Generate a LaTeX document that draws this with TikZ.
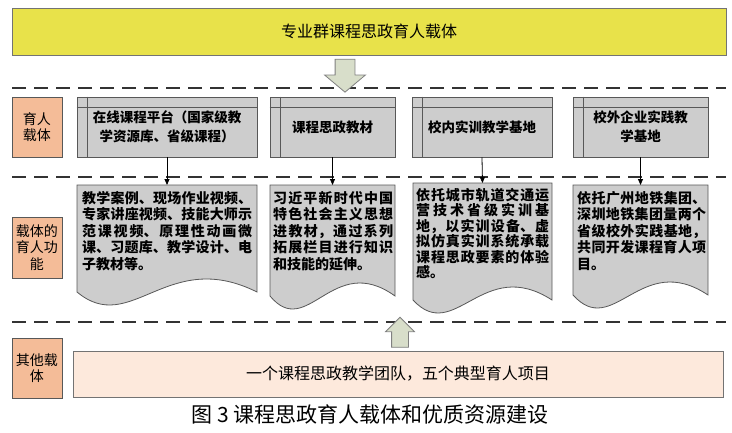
\documentclass[tikz,border=0pt]{standalone}
\usepackage{fontspec}
\newfontfamily\cjk{Noto Sans CJK SC}
\usetikzlibrary{positioning,arrows.meta,shapes.arrows,calc}
\XeTeXlinebreaklocale "zh"
\XeTeXlinebreakskip=0pt plus 4pt
\definecolor{topyellow}{RGB}{232,226,74}
\definecolor{peach}{RGB}{244,188,152}
\definecolor{lightpeach}{RGB}{253,233,220}
\definecolor{boxgray}{RGB}{205,205,205}
\definecolor{arrowgreen}{RGB}{216,222,202}
\definecolor{linegray}{RGB}{88,88,88}
\tikzset{
  topbox/.style  = {draw=black!55, fill=topyellow, line width=0.8pt, minimum width=714pt, minimum height=47pt, font=\cjk\fontsize{16}{19}\selectfont},
  lbl/.style     = {draw=linegray, fill=peach, line width=0.8pt, minimum width=50pt, minimum height=60pt, align=center, inner sep=1pt, font=\cjk\fontsize{14}{16.5}\selectfont},
  store/.style   = {draw=linegray, fill=boxgray, line width=0.8pt, minimum height=60pt, align=center, inner sep=1pt, font=\cjk\bfseries\fontsize{13.5}{19}\selectfont},
  docarea/.style = {inner sep=0pt, outer sep=0pt},
  docline/.style = {draw=linegray, fill=boxgray, line width=0.8pt},
  doctext/.style = {align=justify, inner sep=0pt, font=\cjk\bfseries\fontsize{14}{16.5}\selectfont},
  sep/.style     = {draw=black!80, line width=2.4pt, dash pattern=on 14pt off 8pt},
  link/.style    = {-{Triangle[length=6pt,width=5pt]}, draw=black, line width=0.8pt},
  bigarrow/.style= {single arrow, single arrow head indent=0pt, draw=black!50, fill=arrowgreen, line width=0.8pt},
  basebox/.style = {draw=black!55, fill=lightpeach, line width=0.8pt, minimum width=650pt, minimum height=46pt, font=\cjk\fontsize{16}{19}\selectfont},
}

\begin{document}
\begin{tikzpicture}[x=1pt,y=-1pt]
  \useasboundingbox (0,0) rectangle (732,432);
  % top carrier
  \node[topbox] (top) at (369,31.5) {专业群课程思政育人载体};
  \foreach \y in {88,177,322} \draw[sep] (12,\y) -- (726,\y);
  \node[bigarrow, rotate=-90, minimum height=33pt, inner sep=9.5pt, single arrow head extend=10.5pt, single arrow tip angle=100] (down) at (345,71.5) {};

  % row 1: carriers
  \node[lbl] (l1) at (37,127) {育人\\载体};
  \node[store, minimum width=180pt] (p1) at (167,127) {在线课程平台（国家级教\\学资源库、省级课程）};
  \node[store, minimum width=125pt] (p2) at (332.5,127) {课程思政教材};
  \node[store, minimum width=140pt] (p3) at (482,127) {校内实训教学基地};
  \node[store, minimum width=135pt] (p4) at (640.5,127) {校外企业实践教\\学基地};
  \foreach \b in {p1,p2,p3,p4}
    \draw[linegray, line width=0.8pt] ($(\b.north west)+(11,0)$) -- ($(\b.south west)+(11,0)$)
      ($(\b.north west)+(0,11)$) -- ($(\b.north east)+(0,11)$);

  % row 2: functions
  \node[lbl, minimum height=61pt] (l2) at (37,247.5) {载体的\\育人功\\能};
  \node[docarea, minimum width=180pt, minimum height=107pt] (d1) at (167,238.5) {};
  \node[docarea, minimum width=125pt, minimum height=111pt] (d2) at (332.5,240.5) {};
  \node[docarea, minimum width=139pt, minimum height=117pt] (d3) at (482.5,241.5) {};
  \node[docarea, minimum width=135pt, minimum height=110pt] (d4) at (640.5,240) {};
  \foreach \d in {d1,d2,d3,d4}
    \draw[docline] (\d.south west) -- (\d.north west) -- (\d.north east) -- (\d.south east)
      .. controls ($(\d.south west)!0.5!(\d.south east)+(0,-45)$) and ($(\d.south west)!0.3!(\d.south east)+(0,45)$) .. (\d.south west) -- cycle;
  \node[doctext, text width=170pt, below right=6pt and 5pt of d1.north west] (t1) {教学案例、现场作业视频、专家讲座视频、技能大师示范课视频、原理性动画微课、习题库、教学设计、电子教材等。};
  \node[doctext, text width=120pt, below right=6pt and 3pt of d2.north west] (t2) {习近平新时代中国特色社会主义思想进教材，通过系列拓展栏目进行知识和技能的延伸。};
  \node[doctext, text width=133pt, below right=5pt and 3pt of d3.north west, font=\cjk\bfseries\fontsize{14}{15.5}\selectfont] (t3) {依托城市轨道交通运\linebreak 营技术省级实训基\linebreak 地，以实训设备、虚拟仿真实训系统承载课程思政要素的体验感。};
  \node[doctext, text width=129pt, below right=6pt and 4pt of d4.north west] (t4) {依托广州地铁集团、深圳地铁集团量两个省级校外实践基地，共同开发课程育人项目。};
  \foreach \i in {1,...,4} \draw[link] (p\i.south) -- (d\i.north);

  % row 3: other carriers
  \node[lbl] (l3) at (37,368) {其他载\\体};
  \node[basebox] (base) at (398,374) {一个课程思政教学团队，五个典型育人项目};
  \node[bigarrow, rotate=90, minimum height=30pt, inner sep=8pt, single arrow head extend=6pt] (up) at (400,336.5) {};

  \node[font=\cjk\fontsize{21}{24}\selectfont] (cap) at (370,414) {图 3 课程思政育人载体和优质资源建设};
\end{tikzpicture}
\end{document}
